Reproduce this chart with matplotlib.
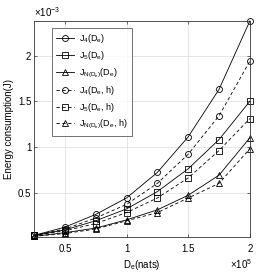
import numpy as np
import matplotlib.pyplot as plt
from matplotlib.ticker import FuncFormatter

plt.rcParams['font.family'] = ['Liberation Sans', 'DejaVu Sans']
plt.rcParams['mathtext.fontset'] = 'custom'
plt.rcParams['mathtext.rm'] = 'Liberation Sans'
plt.rcParams['mathtext.it'] = 'Liberation Sans'

# De in units of 1e5 nats, energy in units of 1e-3 J
de = [0.25, 0.5, 0.75, 1.0, 1.25, 1.5, 1.75, 2.0]
j4 = [0.03, 0.12, 0.26, 0.44, 0.72, 1.11, 1.63, 2.38]
j5 = [0.03, 0.09, 0.19, 0.32, 0.51, 0.76, 1.08, 1.50]
jn = [0.02, 0.06, 0.11, 0.20, 0.31, 0.47, 0.69, 1.10]
j4_h = [0.03, 0.10, 0.22, 0.37, 0.60, 0.92, 1.34, 1.94]
j5_h = [0.03, 0.08, 0.16, 0.28, 0.44, 0.66, 0.96, 1.31]
jn_h = [0.02, 0.05, 0.10, 0.19, 0.28, 0.44, 0.60, 0.98]

labels = [r'J$_4$(D$_e$)', r'J$_5$(D$_e$)', r'J$_{N(D_e)}$(D$_e$)',
          r'J$_4$(D$_e$, h)', r'J$_5$(D$_e$, h)', r'J$_{N(D_e)}$(D$_e$, h)']

fig = plt.figure(figsize=(2.74, 2.75), dpi=100)
ax = fig.add_axes([0.124, 0.139, 0.788, 0.785])

series = [(j4, 'o', '-'), (j5, 's', '-'), (jn, '^', '-'),
          (j4_h, 'o', '--'), (j5_h, 's', '--'), (jn_h, '^', '--')]
for (vals, m, ls), lab in zip(series, labels):
    ax.plot(de, vals, color='k', ls=ls, lw=0.6, marker=m, ms=4.3,
            mfc='none', mec='k', mew=0.6, label=lab, clip_on=False,
            dashes=(4, 3) if ls == '--' else (None, None))

ax.set_xlim(0.25, 2.0)
ax.set_ylim(0.015, 2.38)
ax.set_xticks([0.5, 1, 1.5, 2])
ax.set_yticks([0.5, 1, 1.5, 2])
fmt = FuncFormatter(lambda v, p: '%g' % v)
ax.xaxis.set_major_formatter(fmt)
ax.yaxis.set_major_formatter(fmt)
ax.grid(True, color='#e0e0e0', lw=0.6)
ax.set_axisbelow(True)
ax.tick_params(direction='in', top=True, right=True, labelsize=7, length=2.5, width=0.5,
               color='#333333')
ax.tick_params(axis='x', pad=5)
ax.tick_params(axis='y', pad=2)
for s in ax.spines.values():
    s.set_linewidth(0.6)
    s.set_color('#333333')

ax.set_xlabel(r'D$_e$(nats)', fontsize=7, labelpad=3)
ax.set_ylabel('Energy consumption(J)', fontsize=7, labelpad=3)
ax.text(0.0, 1.01, r'$\times10^{-3}$', transform=ax.transAxes, fontsize=7, ha='left', va='bottom')
ax.text(1.01, -0.125, r'$\times10^{5}$', transform=ax.transAxes, fontsize=7, ha='right', va='center')

leg = ax.legend(loc='upper left', bbox_to_anchor=(0.083, 0.968), fontsize=6.5, handlelength=2.0,
                frameon=True, fancybox=False, edgecolor='#333333', borderpad=0.5, labelspacing=0.45,
                handletextpad=0.5, borderaxespad=0)
leg.get_frame().set_linewidth(0.6)

fig.savefig('out.png', dpi=100)
